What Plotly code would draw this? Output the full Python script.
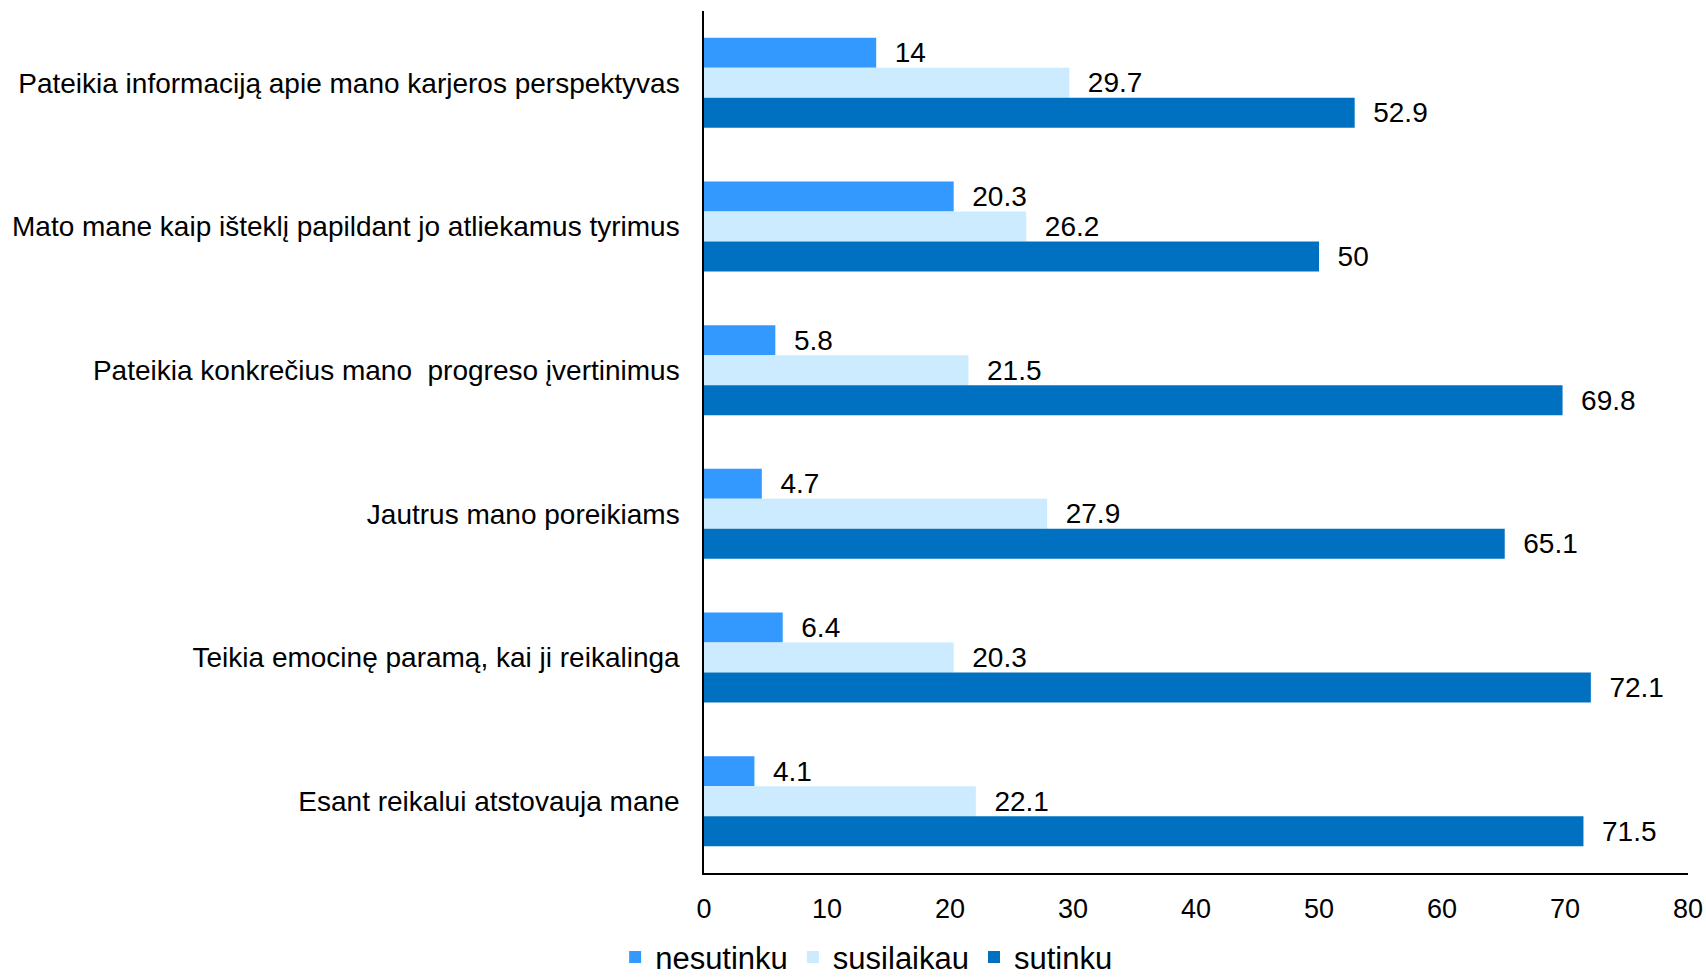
import plotly.graph_objects as go

categories = [
    "Pateikia informaciją apie mano karjeros perspektyvas",
    "Mato mane kaip išteklį papildant jo atliekamus tyrimus",
    "Pateikia konkrečius mano  progreso įvertinimus",
    "Jautrus mano poreikiams",
    "Teikia emocinę paramą, kai ji reikalinga",
    "Esant reikalui atstovauja mane",
]
nesutinku = [14, 20.3, 5.8, 4.7, 6.4, 4.1]
susilaikau = [29.7, 26.2, 21.5, 27.9, 20.3, 22.1]
sutinku = [52.9, 50, 69.8, 65.1, 72.1, 71.5]
x_ticks = [0, 10, 20, 30, 40, 50, 60, 70, 80]

series = [
    ("nesutinku", nesutinku, "#3399FF"),
    ("susilaikau", susilaikau, "#CCEBFF"),
    ("sutinku", sutinku, "#0070C0"),
]

FONT = "Liberation Sans, Arial, sans-serif"

fig = go.Figure()
for name, vals, color in series:
    fig.add_trace(go.Bar(
        name=name,
        y=categories,
        x=vals,
        orientation="h",
        marker=dict(color=color, line=dict(width=0)),
        text=[f"\u00a0\u00a0{v:g}" for v in vals],
        textposition="outside",
        textfont=dict(family=FONT, size=28, color="black"),
        constraintext="none",
        cliponaxis=False,
        hoverinfo="skip",
    ))

fig.update_layout(
    barmode="group",
    bargap=0.374,
    bargroupgap=0,
    width=1706,
    height=979,
    margin=dict(l=704, r=18, t=11, b=106, autoexpand=False),
    paper_bgcolor="white",
    plot_bgcolor="white",
    font=dict(family=FONT, size=28, color="black"),
    showlegend=True,
    legend=dict(
        orientation="h",
        xref="container",
        x=0.508,
        xanchor="center",
        yref="container",
        y=0.022,
        yanchor="middle",
        font=dict(family=FONT, size=31, color="black"),
        traceorder="normal",
        itemwidth=30,
    ),
)
fig.update_xaxes(
    range=[0, 80],
    tickvals=x_ticks,
    showgrid=False,
    zeroline=False,
    showline=True,
    linecolor="black",
    linewidth=1.5,
    ticks="outside",
    ticklen=11,
    tickcolor="rgba(0,0,0,0)",
    tickfont=dict(family=FONT, size=27, color="black"),
    automargin=False,
)
fig.update_yaxes(
    autorange="reversed",
    showgrid=False,
    zeroline=False,
    showline=True,
    linecolor="black",
    linewidth=1.5,
    ticks="outside",
    ticklen=17,
    tickcolor="rgba(0,0,0,0)",
    tickfont=dict(family=FONT, size=28, color="black"),
    automargin=False,
)

fig.write_html(
    "out.html",
    config={"displayModeBar": False},
    post_script="document.body.style.margin='0';document.body.style.overflow='hidden';",
)
